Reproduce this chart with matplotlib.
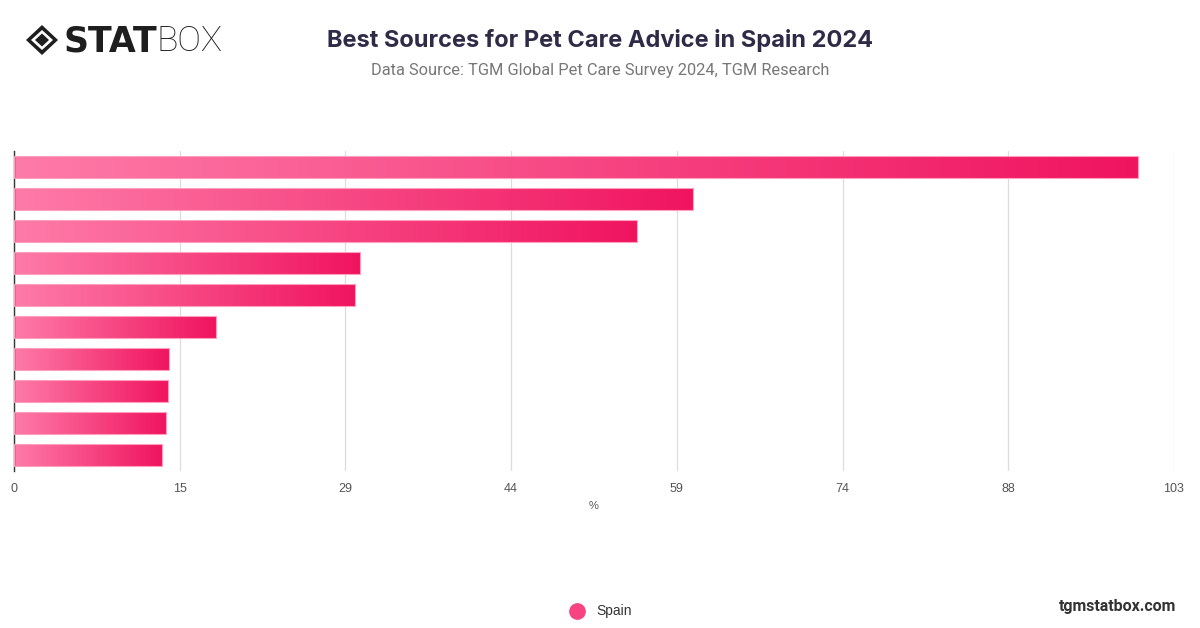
import numpy as np
import matplotlib
matplotlib.use("Agg")
import matplotlib.pyplot as plt
from matplotlib.colors import LinearSegmentedColormap
from matplotlib.patches import Polygon

# data (top bar first)
values = [99.8, 60.3, 55.3, 30.7, 30.3, 17.9, 13.8, 13.7, 13.5, 13.1]
x_max = 103
x_ticks = [i * x_max / 7 for i in range(8)]
x_tick_labels = ["0", "15", "29", "44", "59", "74", "88", "103"]
series_name = "Spain"

title = "Best Sources for Pet Care Advice in Spain 2024"
subtitle = "Data Source: TGM Global Pet Care Survey 2024, TGM Research"

fig = plt.figure(figsize=(12, 6.28), dpi=100)
ax = fig.add_axes([14 / 1200, 1 - 471 / 628, 1160 / 1200, 320 / 628])

cmap = LinearSegmentedColormap.from_list("pink", ["#fe7ba8", "#f0145f"])
grad = np.linspace(0, 1, 256).reshape(1, -1)

ypos = np.arange(len(values))
bar_h = 0.67
bars = ax.barh(ypos, values, height=bar_h, color="none", edgecolor="#ff9fc0",
               linewidth=0.8, zorder=3)
for b, v, y in zip(bars, values, ypos):
    im = ax.imshow(grad, cmap=cmap, aspect="auto", zorder=2,
                   extent=[0, v, y + bar_h / 2, y - bar_h / 2])
    im.set_clip_path(b)

ax.set_xlim(0, x_max)
ax.set_ylim(len(values) - 0.5, -0.5)
ax.set_xticks(x_ticks)
ax.set_xticklabels(x_tick_labels)
ax.set_yticks([])
ax.grid(axis="x", color="#dddddd", linewidth=0.9, zorder=0)
ax.tick_params(axis="x", length=0, pad=9, labelsize=9, labelcolor="#555555")
for lbl in ax.get_xticklabels():
    lbl.set_family("Liberation Sans")
for s in ["top", "right", "bottom"]:
    ax.spines[s].set_visible(False)
ax.spines["left"].set_color("#333333")
ax.spines["left"].set_linewidth(1.0)
ax.set_xlabel("%", fontsize=8, color="#555555", labelpad=4, family="Liberation Sans")

# titles
fig.text(0.5, 1 - 40 / 628, title, ha="center", va="center", fontsize=17,
         fontweight="bold", color="#2e2b47", family="Inter")
fig.text(0.5, 1 - 71 / 628, subtitle, ha="center", va="center", fontsize=11.8,
         color="#777777", family="Roboto")

# logo
def fx(px):
    return px / 1200


def fy(py):
    return 1 - py / 628


cx, cy = 42, 40
outer = Polygon([(fx(cx - 16), fy(cy)), (fx(cx), fy(cy - 15)), (fx(cx + 16), fy(cy)),
                 (fx(cx), fy(cy + 15))], closed=True, transform=fig.transFigure,
                facecolor="#1e1e1e", edgecolor="none")
mid = Polygon([(fx(cx - 11), fy(cy)), (fx(cx), fy(cy - 10)), (fx(cx + 11), fy(cy)),
               (fx(cx), fy(cy + 10))], closed=True, transform=fig.transFigure,
              facecolor="white", edgecolor="none")
inner = Polygon([(fx(cx - 7), fy(cy)), (fx(cx), fy(cy - 6.5)), (fx(cx + 7), fy(cy)),
                 (fx(cx), fy(cy + 6.5))], closed=True, transform=fig.transFigure,
                facecolor="#1e1e1e", edgecolor="none")
for p in (outer, mid, inner):
    fig.patches.append(p)
fig.text(fx(64), fy(41), "STAT", ha="left", va="center", fontsize=25,
         fontweight="heavy", color="#1e1e1e", family="DejaVu Sans")
fig.text(fx(157), fy(41), "BOX", ha="left", va="center", fontsize=25.5,
         fontweight="light", color="#1e1e1e", family="Roboto")

# legend
fig.lines.append(plt.Line2D([fx(577)], [fy(611)], marker="o", markersize=11,
                            color="#f7437f", transform=fig.transFigure))
fig.text(fx(596), fy(611), series_name, ha="left", va="center", fontsize=10,
         color="#333333", family="Liberation Sans")

fig.text(fx(1176), fy(606), "tgmstatbox.com", ha="right", va="center",
         fontsize=11.5, fontweight="bold", color="#333333", family="Roboto")

fig.savefig("out.png", dpi=100)
